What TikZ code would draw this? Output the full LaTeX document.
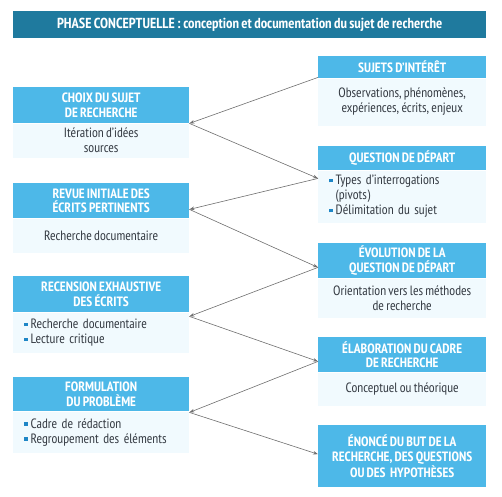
\documentclass[tikz,border=0pt]{standalone}
\usepackage{fontspec}
\setmainfont[WordSpace=0.8]{PT Sans Narrow}
\usetikzlibrary{positioning, arrows.meta}
\definecolor{Titre}{HTML}{1F7A9E}
\definecolor{Entete}{HTML}{4DB8E8}
\definecolor{Fond}{HTML}{F1FAFE}
\definecolor{Texte}{HTML}{353B43}
\definecolor{Puce}{HTML}{1E86C6}
\definecolor{Fleche}{HTML}{6E6E6E}
\newcommand{\puce}{\textcolor{Puce}{\rule[0.18em]{3.5pt}{3.5pt}}\hspace{3pt}}
\tikzset{
    titrebar/.style={rectangle, fill=Titre, text=white, font=\bfseries\fontsize{14.5}{16}\selectfont, minimum width=473pt, minimum height=27pt, anchor=north west, inner sep=0pt},
    entete/.style={rectangle, fill=Entete, text=white, align=center, font=\bfseries\fontsize{13.5}{14.5}\selectfont, anchor=north west, inner sep=0pt},
    corps/.style={rectangle, fill=Fond, text=Texte, font=\fontsize{13.5}{15}\selectfont, inner sep=0pt, below=0pt of #1},
    liste/.style={align=left, text width=#1, inner xsep=11pt},
    gauche/.style={minimum width=176pt},
    droite/.style={minimum width=168pt},
    fleche/.style={-{Stealth[length=5pt, width=3.5pt]}, line width=0.6pt, draw=Fleche},
}

\begin{document}
\begin{tikzpicture}[x=1pt, y=-1pt]
    \useasboundingbox (0,0) rectangle (502,496);
    % Bandeau du titre
    \node[titrebar] (titre) at (13,11) {PHASE CONCEPTUELLE\,: conception et documentation du sujet de recherche};

    % Colonne gauche
    \node[entete, gauche, minimum height=36pt] (choix) at (13,87) {CHOIX DU SUJET\\DE RECHERCHE};
    \node[corps=choix, gauche, minimum height=34pt, align=center] (choixc) {Itération d’idées\\sources};
    \node[entete, gauche, minimum height=35pt] (revue) at (13,183) {REVUE INITIALE DES\\ÉCRITS PERTINENTS};
    \node[corps=revue, gauche, minimum height=34pt, align=center] (revuec) {Recherche documentaire};
    \node[entete, gauche, minimum height=36pt] (recension) at (13,276) {RECENSION EXHAUSTIVE\\DES ÉCRITS};
    \node[corps=recension, liste=154pt, minimum height=40pt] (recensionc) {\puce Recherche documentaire\\\puce Lecture critique};
    \node[entete, gauche, minimum height=34pt] (formulation) at (13,377) {FORMULATION\\DU PROBLÈME};
    \node[corps=formulation, liste=154pt, minimum height=41pt] (formulationc) {\puce Cadre de rédaction\\\puce Regroupement des éléments};

    % Colonne droite
    \node[entete, droite, minimum height=22pt] (sujets) at (318,56) {SUJETS D’INTÉRÊT};
    \node[corps=sujets, droite, minimum height=47pt, align=center] (sujetsc) {Observations, phénomènes,\\expériences, écrits, enjeux};
    \node[entete, droite, minimum height=24pt] (question) at (318,146) {QUESTION DE DÉPART};
    \node[corps=question, liste=146pt, minimum height=52pt] (questionc) {\puce Types d’interrogations\\\hspace*{6.5pt}(pivots)\\\puce Délimitation du sujet};
    \node[entete, droite, minimum height=35pt] (evolution) at (318,243) {ÉVOLUTION DE LA\\QUESTION DE DÉPART};
    \node[corps=evolution, droite, minimum height=39pt, align=center] (evolutionc) {Orientation vers les méthodes\\de recherche};
    \node[entete, droite, minimum height=35pt] (elaboration) at (318,337) {ÉLABORATION DU CADRE\\DE RECHERCHE};
    \node[corps=elaboration, droite, minimum height=33pt, align=center] (elaborationc) {Conceptuel ou théorique};
    \node[entete, droite, minimum height=62pt] (enonce) at (318,425) {ÉNONCÉ DU BUT DE LA\\RECHERCHE, DES QUESTIONS\\OU DES~ HYPOTHÈSES};

    % Points de jonction du zigzag
    \coordinate (c1) at ([yshift=1pt]sujets.south west);
    \coordinate (c2) at (choix.south east);
    \coordinate (c3) at ([yshift=-8pt]questionc.north west);
    \coordinate (c4) at ([yshift=9pt]revue.south east);
    \coordinate (c5) at ([yshift=11pt]evolution.south west);
    \coordinate (c6) at ([yshift=-4pt]recensionc.north east);
    \coordinate (c7) at ([yshift=11pt]elaboration.south west);
    \coordinate (c8) at ([yshift=-1pt]formulation.south east);
    \coordinate (c9) at ([yshift=2pt]enonce.west);

    % Fleches
    \foreach \a/\b in {c1/c2, c2/c3, c3/c4, c4/c5, c5/c6, c6/c7, c7/c8, c8/c9}
        \draw[fleche] (\a) -- (\b);
\end{tikzpicture}
\end{document}
